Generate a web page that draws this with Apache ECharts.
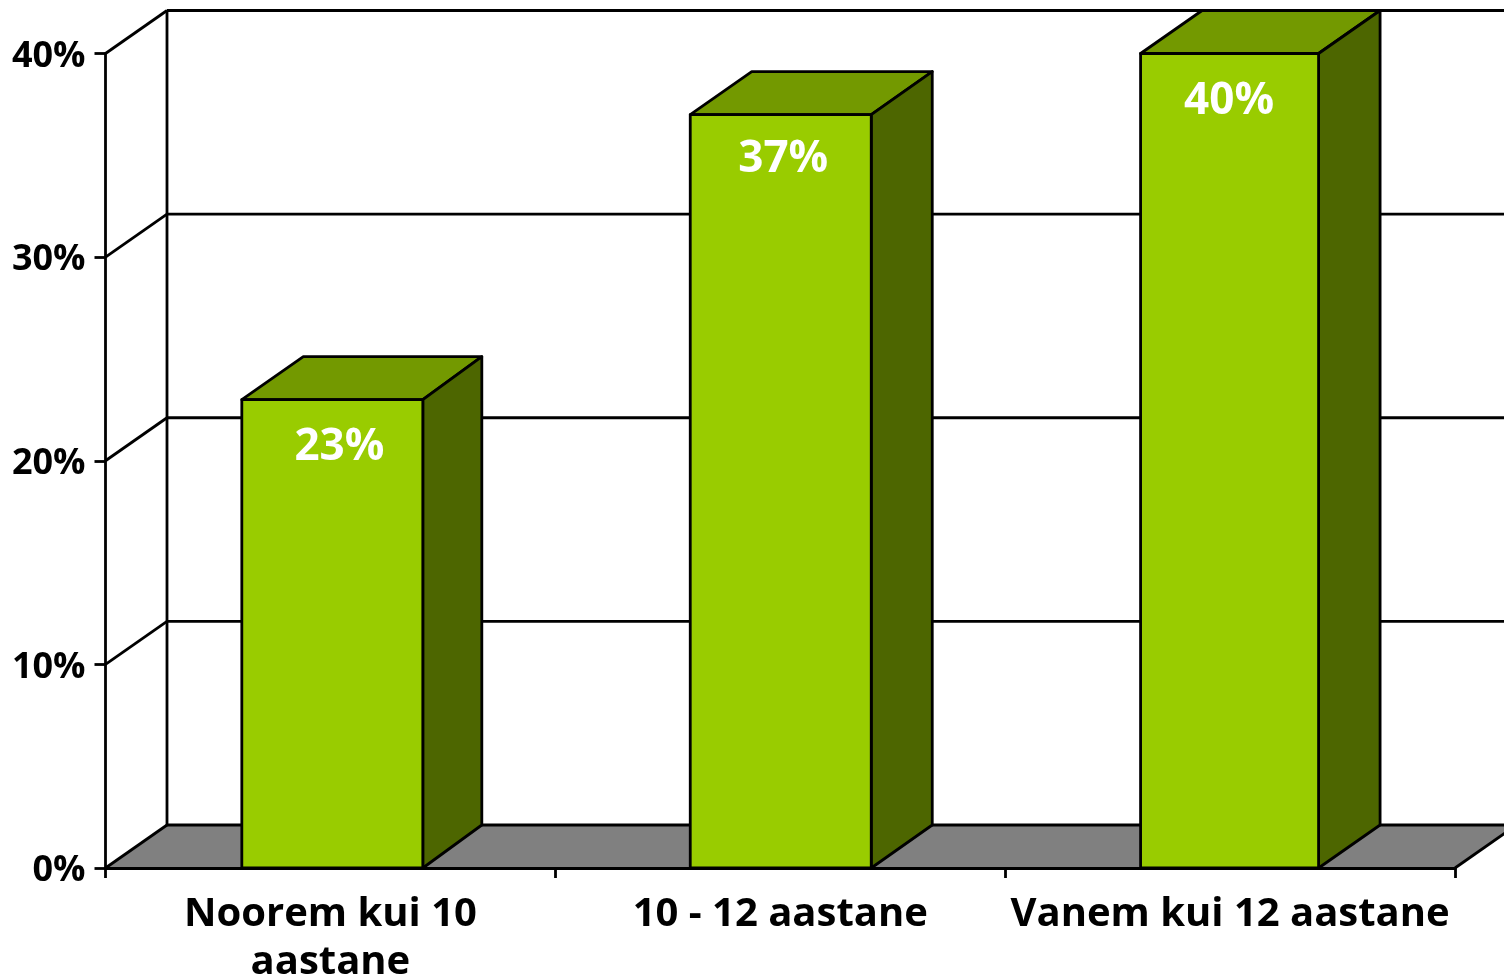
<!DOCTYPE html>
<html><head><meta charset="utf-8">
<style>html,body{margin:0;padding:0;background:#fff;overflow:hidden}#c{width:1504px;height:976px}</style>
<script src="https://cdn.jsdelivr.net/npm/echarts@6/dist/echarts.min.js"></script>
</head><body><div id="c"></div>
<script>
const categories = ['Noorem kui 10\naastane', '10 - 12 aastane', 'Vanem kui 12 aastane'];
const values = [23, 37, 40];
const valueLabels = ['23%', '37%', '40%'];
const yTicks = [0, 10, 20, 30, 40];

const DX = 61.5, DY = -43, LW = 2.8, INK = '#000';
const barLeftNudge = [1.4, 0, 0.5], barWidths = [181, 181, 178], backRightNudge = [-2.5, -0.5, 0];
const labelNudge = [9, 3, -1], labelDrop = [48, 44.5, 48];
const FONT = '"Open Sans"';
const line = (x1, y1, x2, y2) => ({type: 'line', shape: {x1, y1, x2, y2}, style: {stroke: INK, lineWidth: LW}});

const chart = echarts.init(document.getElementById('c'), null, {renderer: 'canvas'});
chart.setOption({
  animation: false,
  backgroundColor: '#fff',
  grid: {left: 105.5, top: 53.5, width: 1349.5, height: 814.5, containLabel: false, outerBoundsMode: 'none'},
  xAxis: {
    type: 'category', data: categories, boundaryGap: true,
    axisLine: {show: true, lineStyle: {color: INK, width: LW}},
    axisTick: {show: true, length: 10, lineStyle: {color: INK, width: LW}},
    axisLabel: {interval: 0, margin: 23, fontFamily: FONT, fontWeight: 'bold', fontSize: 40, lineHeight: 48, color: INK, hideOverlap: false},
    splitLine: {show: false}, z: 5
  },
  yAxis: {
    type: 'value', min: 0, max: 40, interval: 10,
    axisLine: {show: true, lineStyle: {color: INK, width: LW}},
    axisTick: {show: true, length: 11, lineStyle: {color: INK, width: LW}},
    axisLabel: {margin: 20, verticalAlign: 'top', lineHeight: 6, fontFamily: FONT, fontWeight: 'bold', fontSize: 36, color: INK, formatter: '{value}%'},
    splitLine: {show: false}, z: 5
  },
  series: [
    {
      type: 'custom', coordinateSystem: 'cartesian2d', clip: false, silent: true, z: 1,
      data: [[0, 0]],
      renderItem: (p, api) => {
        const y = api.coord([0, api.value(1)])[1], x0 = p.coordSys.x, x1 = x0 + p.coordSys.width;
        return {type: 'polygon', shape: {points: [[x0, y], [x0 + DX, y + DY], [x1 + DX, y + DY], [x1, y]]},
          style: {fill: '#808080'}};
      }
    },
    {
      type: 'custom', coordinateSystem: 'cartesian2d', clip: false, silent: true, z: 2,
      data: yTicks.map(v => [0, v]),
      renderItem: (p, api) => {
        const v = api.value(1);
        const y = api.coord([0, v])[1], x0 = p.coordSys.x, x1 = x0 + p.coordSys.width;
        return {type: 'group', children: [
          line(x0, y, x0 + DX, y + DY),
          line(x0 + DX, y + DY, x1 + DX, y + DY),
          ...(v === 0 ? [line(x1, y, x1 + DX, y + DY)] : []),
          ...(v === yTicks[yTicks.length - 1] ? [line(x0 + DX, y + DY, x0 + DX, api.coord([0, 0])[1] + DY)] : [])
        ]};
      }
    },
    {
      type: 'custom', coordinateSystem: 'cartesian2d', clip: false, silent: true, z: 3,
      encode: {x: 0, y: 1},
      data: values.map((v, i) => [i, v]),
      renderItem: (p, api) => {
        const i = api.value(0);
        const top = api.coord([i, api.value(1)]), base = api.coord([i, 0]);
        const w = barWidths[i], l = top[0] - 90 + barLeftNudge[i], r = l + w, t = top[1], b = base[1];
        const br = r + DX + backRightNudge[i];
        const st = fill => ({fill, stroke: INK, lineWidth: LW, lineJoin: 'round'});
        return {type: 'group', children: [
          {type: 'polygon', shape: {points: [[l, t], [l + DX, t + DY], [br, t + DY], [r, t]]}, style: st('#739900')},
          {type: 'polygon', shape: {points: [[r, t], [br, t + DY], [br, b + DY], [r, b]]}, style: st('#4D6600')},
          {type: 'rect', shape: {x: l, y: t, width: w, height: b - t}, style: st('#99CC00')},
          {type: 'text', style: {text: valueLabels[i], x: top[0] + labelNudge[i], y: t + labelDrop[i], align: 'center', verticalAlign: 'middle',
            fill: '#fff', fontFamily: FONT, fontWeight: 'bold', fontSize: 44}}
        ]};
      }
    }
  ]
});
</script></body></html>
